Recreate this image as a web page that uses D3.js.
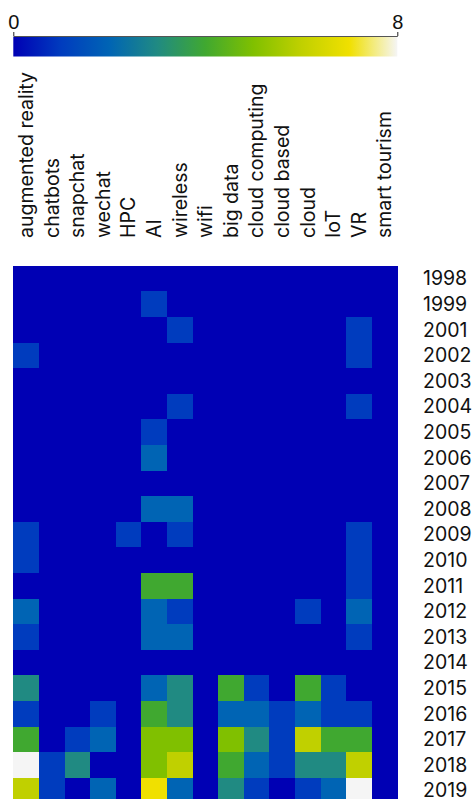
<!DOCTYPE html>
<html>
<head>
<meta charset="utf-8">
<script src="https://cdn.jsdelivr.net/npm/d3@7"></script>
<style>
  body { margin: 0; background: #fff; }
  svg { display: block; font-family: Inter, "Noto Sans", sans-serif; }
</style>
</head>
<body>
<svg id="chart"></svg>
<script>
"use strict";
// categories (columns) and years (rows)
const categories = ["augmented reality", "chatbots", "snapchat", "wechat", "HPC", "AI", "wireless",
  "wifi", "big data", "cloud computing", "cloud based", "cloud", "IoT", "VR", "smart tourism"];
const years = ["1998", "1999", "2001", "2002", "2003", "2004", "2005", "2006", "2007", "2008", "2009",
  "2010", "2011", "2012", "2013", "2014", "2015", "2016", "2017", "2018", "2019"];
// counts per year, one entry per category
const counts = [
  [0,0,0,0,0,0,0,0,0,0,0,0,0,0,0],
  [0,0,0,0,0,1,0,0,0,0,0,0,0,0,0],
  [0,0,0,0,0,0,1,0,0,0,0,0,0,1,0],
  [1,0,0,0,0,0,0,0,0,0,0,0,0,1,0],
  [0,0,0,0,0,0,0,0,0,0,0,0,0,0,0],
  [0,0,0,0,0,0,1,0,0,0,0,0,0,1,0],
  [0,0,0,0,0,1,0,0,0,0,0,0,0,0,0],
  [0,0,0,0,0,2,0,0,0,0,0,0,0,0,0],
  [0,0,0,0,0,0,0,0,0,0,0,0,0,0,0],
  [0,0,0,0,0,2,2,0,0,0,0,0,0,0,0],
  [1,0,0,0,1,0,1,0,0,0,0,0,0,1,0],
  [1,0,0,0,0,0,0,0,0,0,0,0,0,1,0],
  [0,0,0,0,0,4,4,0,0,0,0,0,0,1,0],
  [2,0,0,0,0,2,1,0,0,0,0,1,0,2,0],
  [1,0,0,0,0,2,2,0,0,0,0,0,0,1,0],
  [0,0,0,0,0,0,0,0,0,0,0,0,0,0,0],
  [3,0,0,0,0,2,3,0,4,1,0,4,1,0,0],
  [1,0,0,1,0,4,3,0,2,2,1,2,1,1,0],
  [4,0,1,2,0,5,5,0,5,3,1,6,4,4,0],
  [8,1,3,0,0,5,6,0,4,2,1,3,3,6,0],
  [6,1,0,2,0,7,2,0,3,1,0,1,2,8,0]
];
const colorTicks = [0, 8];
// palette sampled at 0..8
const palette = ["#0000b4", "#003cbe", "#0064b4", "#208a82", "#40a830", "#80c000", "#c0d000", "#f0e000", "#f5f5f5"];

const width = 472, height = 799;
const marginLeft = 13.3, gridW = 384, gridTop = 265.7;
const cell = gridW / categories.length;

const svg = d3.select("#chart").attr("width", width).attr("height", height);

const color = d3.scaleLinear()
  .domain(d3.range(palette.length).map(i => i * 8 / (palette.length - 1)))
  .range(palette)
  .interpolate(d3.interpolateRgb);

const x = d3.scaleBand().domain(categories).range([marginLeft, marginLeft + gridW]);
const y = d3.scaleBand().domain(years).range([gridTop, gridTop + cell * years.length]);

// colour bar
const barX = d3.scaleLinear().domain([0, 8]).range([marginLeft, marginLeft + gridW]);
const grad = svg.append("defs").append("linearGradient").attr("id", "cbar");
d3.range(0, 8.01, 0.25).forEach(v => {
  grad.append("stop").attr("offset", (v / 8 * 100) + "%").attr("stop-color", color(v));
});
svg.append("rect")
  .attr("x", marginLeft).attr("y", 36.5)
  .attr("width", gridW).attr("height", 20)
  .attr("fill", "url(#cbar)");
svg.append("g")
  .attr("transform", "translate(0,36)")
  .call(d3.axisTop(barX).tickValues(colorTicks).tickSize(4).tickSizeOuter(0).tickPadding(3))
  .call(g => g.select(".domain").attr("stroke", "#555"))
  .call(g => g.selectAll(".tick line").attr("stroke", "#222"))
  .call(g => g.selectAll("text").attr("font-size", 20).attr("fill", "#111").attr("font-family", null));

// cells
const cells = [];
counts.forEach((row, i) => row.forEach((v, j) => cells.push({ year: years[i], cat: categories[j], v })));
svg.append("g")
  .attr("shape-rendering", "crispEdges")
  .selectAll("rect")
  .data(cells)
  .join("rect")
  .attr("x", d => x(d.cat))
  .attr("y", d => y(d.year))
  .attr("width", x.bandwidth() + 0.5)
  .attr("height", y.bandwidth() + 0.5)
  .attr("fill", d => color(d.v));

// column labels
svg.append("g")
  .selectAll("text")
  .data(categories)
  .join("text")
  .attr("transform", d => `translate(${x(d) + x.bandwidth() / 2},238) rotate(-90)`)
  .attr("dy", "0.35em")
  .attr("font-size", 19.5)
  .attr("fill", "#111")
  .text(d => d);

// year labels
svg.append("g")
  .selectAll("text")
  .data(years)
  .join("text")
  .attr("x", 423)
  .attr("y", d => y(d) + y.bandwidth() / 2)
  .attr("dy", "0.35em")
  .attr("font-size", 19.5)
  .attr("fill", "#111")
  .text(d => d);
</script>
</body>
</html>
